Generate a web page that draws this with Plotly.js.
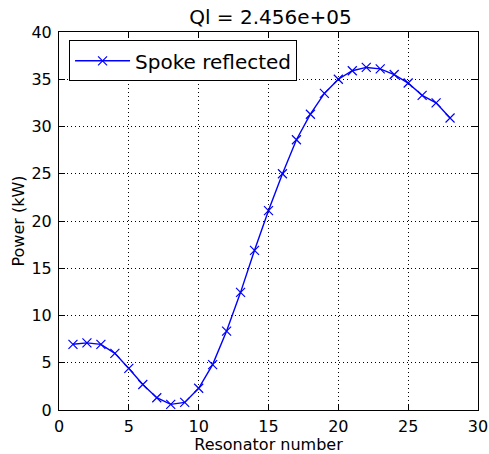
<!DOCTYPE html>
<html><head><meta charset="utf-8">
<script src="https://cdn.plot.ly/plotly-3.0.1.min.js"></script>
<style>body{margin:0;padding:0;background:#fff}#c{width:489px;height:454px}</style>
</head><body><div id="c"></div>
<script>
const resonator = [1,2,3,4,5,6,7,8,9,10,11,12,13,14,15,16,17,18,19,20,21,22,23,24,25,26,27,28];
const power = [6.95,7.1,6.95,6.0,4.4,2.7,1.3,0.6,0.8,2.3,4.8,8.35,12.45,16.9,21.1,25.0,28.6,31.3,33.5,35.0,35.9,36.25,36.1,35.5,34.6,33.3,32.5,30.9];
const seriesName = "Spoke reflected";
const titleText = "Ql = 2.456e+05";
const xTitle = "Resonator number";
const yTitle = "Power (kW)";

const font = "DejaVu Sans, sans-serif";
const axisCommon = {
  showline: true, linecolor: "#000", linewidth: 1, mirror: "ticks",
  ticks: "inside", ticklen: 6, tickcolor: "#000", tickwidth: 1,
  showgrid: true, gridcolor: "#000", griddash: "1px,3px", gridwidth: 1,
  zeroline: false, tickfont: {family: font, size: 16, color: "#000"},
  ticklabeloverflow: "allow", dtick: 5
};
Plotly.newPlot("c", [{
  x: resonator, y: power, name: seriesName, type: "scatter", mode: "lines+markers",
  line: {color: "#0000ff", width: 1.4},
  marker: {symbol: "x-thin", size: 9, line: {color: "#0000ff", width: 1.2}, color: "#0000ff"}
}], {
  width: 489, height: 454,
  margin: {l: 59, r: 11, t: 32, b: 44},
  paper_bgcolor: "#fff", plot_bgcolor: "#fff",
  showlegend: true,
  title: {text: titleText, font: {family: font, size: 20, color: "#000"}, x: 0.553, xanchor: "center", y: 0.962, yanchor: "middle"},
  xaxis: Object.assign({}, axisCommon, {range: [0, 30], ticklabelstandoff: 2, title: {text: xTitle, font: {family: font, size: 16, color: "#000"}, standoff: 2}}),
  yaxis: Object.assign({}, axisCommon, {range: [0, 40], ticklabelstandoff: 3, title: {text: yTitle, font: {family: font, size: 16, color: "#000"}, standoff: 2}}),
  legend: {x: 0.024, y: 0.978, xanchor: "left", yanchor: "top", bordercolor: "#000", borderwidth: 1,
    bgcolor: "#fff", font: {family: font, size: 20, color: "#000"}, itemwidth: 55}
}, {displayModeBar: false, staticPlot: true});
</script></body></html>
